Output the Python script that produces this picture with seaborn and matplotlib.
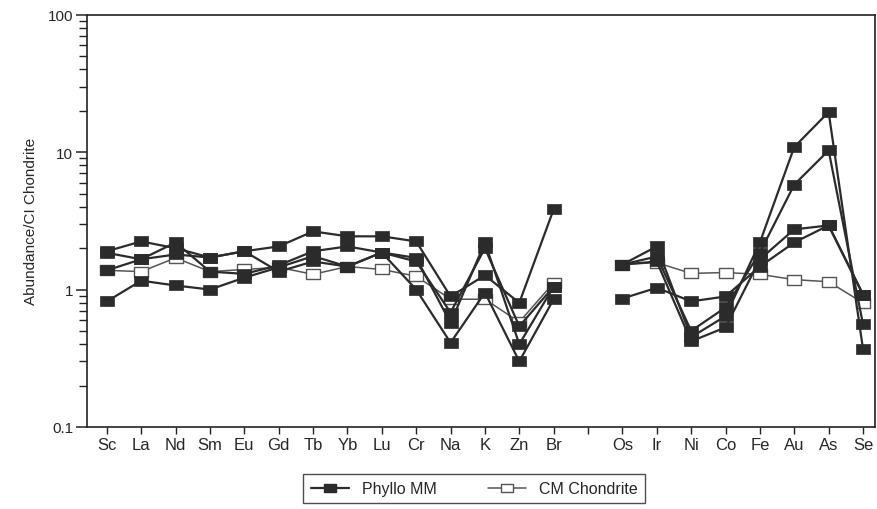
import numpy as np
import pandas as pd
import matplotlib
matplotlib.use("Agg")
import matplotlib.pyplot as plt
import seaborn as sns
from matplotlib.lines import Line2D
from matplotlib.ticker import FixedLocator, FixedFormatter, NullFormatter
from matplotlib.path import Path

# ---- data ----
elements_left = ["Sc", "La", "Nd", "Sm", "Eu", "Gd", "Tb", "Yb", "Lu", "Cr", "Na", "K", "Zn", "Br"]
elements_right = ["Os", "Ir", "Ni", "Co", "Fe", "Au", "As", "Se"]
tick_labels = elements_left + [""] + elements_right

mm1_left = [1.9, 2.24, 2.0, 1.71, 1.9, 2.06, 2.65, 2.44, 2.44, 2.24, 0.89, 1.27, 0.80, 3.84]
mm1_right = [1.52, 2.06, 0.45, 0.64, 2.2, 10.9, 19.6, 0.37]
mm2_left = [1.85, 1.66, 2.2, 1.35, 1.3, 1.5, 1.9, 2.06, 1.86, 1.7, 0.57, 2.2, 0.40, 1.05]
mm2_right = [1.52, 1.74, 0.50, 0.74, 1.86, 5.8, 10.3, 0.56]
mm3_left = [1.38, 1.66, 1.8, 1.71, 1.9, 1.35, 1.6, 1.47, 1.86, 1.6, 0.68, 2.0, 0.54, 1.05]
mm3_right = [1.52, 1.6, 0.42, 0.53, 1.66, 2.74, 2.93, 0.92]
mm4_left = [0.82, 1.16, 1.07, 1.0, 1.22, 1.45, 1.75, 1.47, 1.86, 1.0, 0.41, 0.95, 0.30, 0.85]
mm4_right = [0.86, 1.03, 0.82, 0.89, 1.47, 2.2, 2.93, 0.92]
cm_left = [1.38, 1.35, 1.7, 1.35, 1.4, 1.45, 1.29, 1.47, 1.4, 1.25, 0.85, 0.85, 0.58, 1.12]
cm_right = [1.52, 1.57, 1.31, 1.33, 1.29, 1.18, 1.14, 0.8]

# ---- long-form table ----
pos_left = list(range(len(elements_left)))
pos_right = list(range(len(elements_left) + 1, len(elements_left) + 1 + len(elements_right)))
rows = []
series = {
    "MM1": (mm1_left, mm1_right, "Phyllo MM"),
    "MM2": (mm2_left, mm2_right, "Phyllo MM"),
    "MM3": (mm3_left, mm3_right, "Phyllo MM"),
    "MM4": (mm4_left, mm4_right, "Phyllo MM"),
    "CM": (cm_left, cm_right, "CM Chondrite"),
}
for name, (lv, rv, kind) in series.items():
    for p, v in zip(pos_left, lv):
        rows.append(dict(series=name, seg=name + "_L", pos=p, value=v, kind=kind))
    for p, v in zip(pos_right, rv):
        rows.append(dict(series=name, seg=name + "_R", pos=p, value=v, kind=kind))
df = pd.DataFrame(rows)

# ---- style ----
sns.set_style("ticks")
plt.rcParams["font.family"] = ["Liberation Sans", "DejaVu Sans"]

rect = Path([(-1.45, -1), (1.45, -1), (1.45, 1), (-1.45, 1), (-1.45, -1)],
            [Path.MOVETO, Path.LINETO, Path.LINETO, Path.LINETO, Path.CLOSEPOLY])

dark = "#2b2b2b"
fig = plt.figure(figsize=(8.78, 5.10), dpi=100)
ax = fig.add_axes([0.099, 0.161, 0.8976, 0.808])

cm = df[df.kind == "CM Chondrite"]
for seg, d in cm.groupby("seg"):
    sns.lineplot(data=d, x="pos", y="value", ax=ax, color="#555555", lw=1.1,
                 marker=rect, markersize=10.5, markerfacecolor="white",
                 markeredgecolor="#555555", markeredgewidth=1.0,
                 estimator=None, sort=False, zorder=2, legend=False)

mm = df[df.kind == "Phyllo MM"]
for seg, d in mm.groupby("seg"):
    sns.lineplot(data=d, x="pos", y="value", ax=ax, color=dark, lw=1.6,
                 marker=rect, markersize=10.5, markerfacecolor=dark,
                 markeredgecolor=dark, markeredgewidth=0.5,
                 estimator=None, sort=False, zorder=3, legend=False)

ax.set_yscale("log")
ax.set_ylim(0.1, 100)
ax.set_xlim(-0.58, 22.35)
ax.yaxis.set_major_locator(FixedLocator([0.1, 1, 10, 100]))
ax.yaxis.set_major_formatter(FixedFormatter(["0.1", "1", "10", "100"]))
minors = [m * 10.0 ** e for e in (-1, 0, 1) for m in range(2, 10)]
ax.yaxis.set_minor_locator(FixedLocator(minors))
ax.yaxis.set_minor_formatter(NullFormatter())

ax.set_xticks(range(len(tick_labels)))
ax.set_xticklabels(tick_labels, fontsize=12)
ax.tick_params(axis="y", which="major", length=8, width=1.1, labelsize=11, direction="out", color="#222222", pad=2)
ax.tick_params(axis="y", which="minor", length=6, width=1.0, direction="out", color="#222222")
ax.tick_params(axis="x", length=5, width=1.0, direction="out", pad=2, color="#222222")
for sp in ax.spines.values():
    sp.set_linewidth(1.2)
    sp.set_color("#222222")
    sp.set_visible(True)

ax.set_xlabel("")
ax.set_ylabel("Abundance/CI Chondrite", fontsize=11, labelpad=7)

handles = [
    Line2D([0], [0], color=dark, lw=1.6, marker=rect, markersize=9,
           markerfacecolor=dark, markeredgecolor=dark),
    Line2D([0], [0], color="#555555", lw=1.1, marker=rect, markersize=9,
           markerfacecolor="white", markeredgecolor="#555555"),
]
leg = fig.legend(handles, ["Phyllo MM", "CM Chondrite"], loc="center",
                 bbox_to_anchor=(0.54, 0.04), ncol=2, frameon=True, fancybox=False,
                 fontsize=11.5, handlelength=2.4, columnspacing=3.2, borderpad=0.45)
leg.get_frame().set_edgecolor("#222222")
leg.get_frame().set_linewidth(1.0)

fig.savefig("out.png", dpi=100)
